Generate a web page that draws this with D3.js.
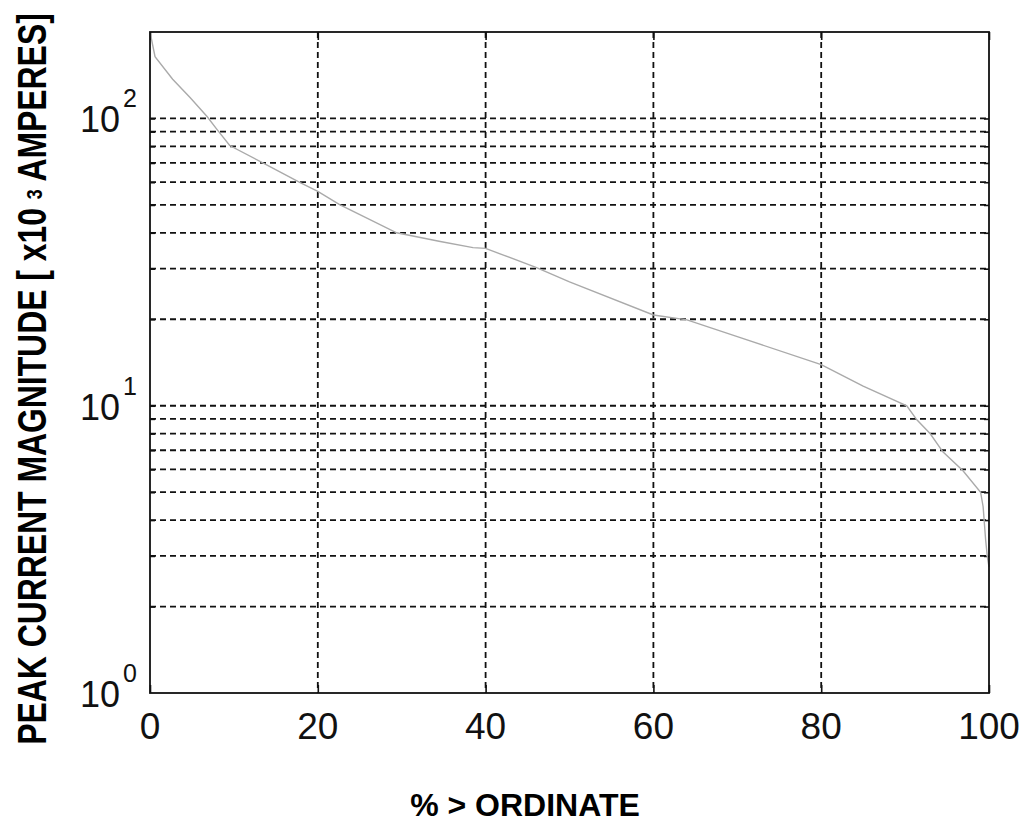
<!DOCTYPE html>
<html>
<head>
<meta charset="utf-8">
<script src="https://cdn.jsdelivr.net/npm/d3@7"></script>
<style>
  body { margin: 0; background: #fff; }
  svg, text, tspan { font-family: "Liberation Sans", Arial, sans-serif; }
</style>
</head>
<body>
<div id="chart"></div>
<script>
// percent of strokes exceeding the ordinate
const pct = [0, 0.6, 2.7, 4.8, 6.8, 8, 9.5, 13.9, 17.9, 20, 22.6, 29.4, 34.6, 38.5, 40,
  46, 50, 60, 64, 70, 80, 85, 90.2, 91.4, 93, 94.5, 96.9, 99, 99.3, 99.6, 99.8, 100];
// peak current, kA
const peak = [200, 164, 137, 118, 101.6, 91.5, 80.5, 69, 59.8, 55.7, 50.1, 40, 37.3, 35.5, 35.3,
  30.3, 27, 20.7, 19.9, 17.4, 13.9, 11.7, 10, 8.93, 7.99, 6.91, 5.94, 5.0, 4.45, 3.41, 2.98, 2.75];

const xTicks = [0, 20, 40, 60, 80, 100];
const xGrid = [20, 40, 60, 80];
const yMajor = [1, 10, 100];
const yGrid = [2, 3, 4, 5, 6, 7, 8, 9, 10, 20, 30, 40, 50, 60, 70, 80, 90, 100];

const margin = { top: 32, right: 35, bottom: 132, left: 150 };
const width = 1024 - margin.left - margin.right;
const height = 825 - margin.top - margin.bottom;

const svg = d3.select("#chart")
  .append("svg")
  .attr("width", 1024)
  .attr("height", 825);

const g = svg.append("g")
  .attr("transform", `translate(${margin.left},${margin.top})`);

const x = d3.scaleLinear().domain([0, 100]).range([0, width]);
const y = d3.scaleLog().domain([1, 200]).range([height, 0]);

// dashed grid
g.selectAll(".hgrid")
  .data(yGrid)
  .enter()
  .append("line")
  .attr("class", "hgrid")
  .attr("x1", 0)
  .attr("x2", width)
  .attr("y1", (d) => y(d))
  .attr("y2", (d) => y(d))
  .attr("stroke", "#111")
  .attr("stroke-width", 1.8)
  .attr("stroke-dasharray", "6,4");

g.selectAll(".vgrid")
  .data(xGrid)
  .enter()
  .append("line")
  .attr("class", "vgrid")
  .attr("x1", (d) => x(d))
  .attr("x2", (d) => x(d))
  .attr("y1", 0)
  .attr("y2", height)
  .attr("stroke", "#111")
  .attr("stroke-width", 1.8)
  .attr("stroke-dasharray", "6,4");

// inner ticks, matlab style
const yAxisL = d3.axisRight(y).tickValues(yGrid).tickSize(5).tickFormat("");
const yAxisR = d3.axisLeft(y).tickValues(yGrid).tickSize(5).tickFormat("");
const xAxisB = d3.axisTop(x).tickValues(xTicks).tickSize(8).tickFormat("");
const xAxisT = d3.axisBottom(x).tickValues(xTicks).tickSize(8).tickFormat("");

[[yAxisL, `translate(0,0)`], [yAxisR, `translate(${width},0)`],
 [xAxisB, `translate(0,${height})`], [xAxisT, `translate(0,0)`]].forEach(([ax, tr]) => {
  const a = g.append("g").attr("transform", tr).call(ax);
  a.select(".domain").remove();
  a.selectAll("line").attr("stroke", "#111").attr("stroke-width", 1.6);
});

// curve
const line = d3.line()
  .x((d, i) => x(pct[i]))
  .y((d) => y(d));

g.append("path")
  .datum(peak)
  .attr("fill", "none")
  .attr("stroke", "#aaa")
  .attr("stroke-width", 1.4)
  .attr("d", line);

// frame
g.append("rect")
  .attr("x", 0)
  .attr("y", 0)
  .attr("width", width)
  .attr("height", height)
  .attr("fill", "none")
  .attr("stroke", "#111")
  .attr("stroke-width", 1.8);

// tick labels
g.selectAll(".xlab")
  .data(xTicks)
  .enter()
  .append("text")
  .attr("class", "xlab")
  .attr("x", (d) => x(d))
  .attr("y", height + 46)
  .attr("text-anchor", "middle")
  .style("font-size", "37px")
  .attr("fill", "#111")
  .text((d) => d);

const ylab = g.selectAll(".ylab")
  .data(yMajor)
  .enter()
  .append("text")
  .attr("class", "ylab")
  .attr("x", -13)
  .attr("y", (d) => y(d) + 14)
  .attr("text-anchor", "end")
  .attr("fill", "#111");

ylab.append("tspan")
  .style("font-size", "36px")
  .text("10");
ylab.append("tspan")
  .attr("dx", 3)
  .attr("dy", -25)
  .style("font-size", "25px")
  .text((d) => Math.round(Math.log10(d)));

// axis titles
svg.append("text")
  .attr("x", 525)
  .attr("y", 816)
  .attr("text-anchor", "middle")
  .style("font-size", "32px")
  .style("font-weight", "bold")
  .text("% > ORDINATE");

// y title: narrow, tall lettering -> scale a smaller font to fit
const ytitle = svg.append("text")
  .attr("text-anchor", "middle")
  .style("font-size", "32px")
  .style("font-weight", "bold");

ytitle.append("tspan").text("PEAK CURRENT MAGNITUDE [ x10 ");
ytitle.append("tspan").attr("dy", -3).style("font-size", "18px").text("3");
ytitle.append("tspan").attr("dy", 3).text(" AMPERES]");

const natural = ytitle.node().getComputedTextLength();
const sx = 732 / natural;
ytitle.attr("transform", `translate(46,379) rotate(-90) scale(${sx},1.25)`);
</script>
</body>
</html>
